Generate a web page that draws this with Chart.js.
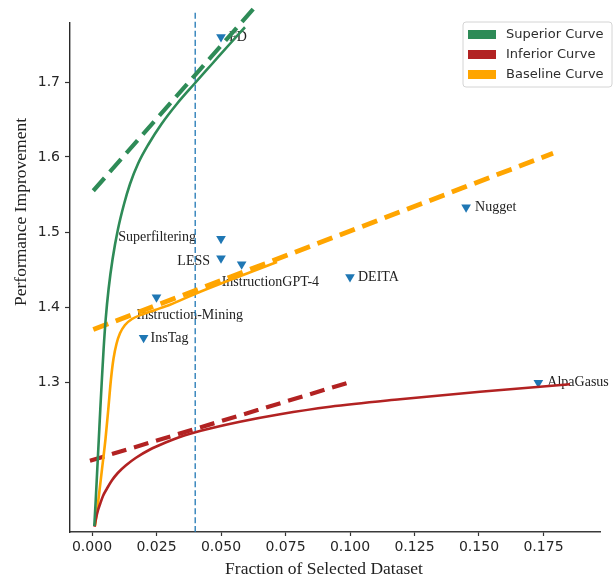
<!DOCTYPE html>
<html>
<head>
<meta charset="utf-8">
<script src="https://cdn.jsdelivr.net/npm/chart.js@4.4.1/dist/chart.umd.min.js"></script>
<style>
  html, body { margin: 0; padding: 0; background: #ffffff; }
  #wrap { width: 614px; height: 575px; }
  canvas { display: block; }
</style>
</head>
<body>
<div id="wrap"><canvas id="c" width="614" height="575"></canvas></div>
<script>
// ---------- data ----------
const methodNames = ['FD', 'Superfiltering', 'LESS', 'InstructionGPT-4', 'DEITA', 'Nugget', 'Instruction-Mining', 'InsTag', 'AlpaGasus'];
const methodX     = [0.050, 0.050, 0.050, 0.058, 0.100, 0.145, 0.025, 0.020, 0.173];
const methodY     = [1.760, 1.491, 1.465, 1.457, 1.440, 1.533, 1.413, 1.359, 1.299];

const superiorX = [0.00089, 0.00147, 0.00205, 0.00264, 0.00322, 0.00384, 0.00450, 0.00531, 0.00643, 0.00798, 0.01008,
                   0.01240, 0.01473, 0.01783, 0.02190, 0.02694, 0.03295, 0.03953, 0.04651, 0.05349, 0.05930];
const superiorY = [1.108, 1.144, 1.184, 1.224, 1.264, 1.304, 1.344, 1.384, 1.424, 1.464, 1.504,
                   1.537, 1.564, 1.591, 1.617, 1.644, 1.671, 1.697, 1.724, 1.751, 1.773];

const inferiorX = [0.00097, 0.00155, 0.00233, 0.00310, 0.00426, 0.00581, 0.00775, 0.01008, 0.01318, 0.01705,
                   0.02248, 0.02829, 0.03605, 0.04574, 0.05736, 0.07287, 0.09225, 0.11938, 0.15039, 0.18527];
const inferiorY = [1.107, 1.118, 1.129, 1.137, 1.148, 1.158, 1.169, 1.179, 1.189, 1.199,
                   1.210, 1.219, 1.229, 1.238, 1.247, 1.257, 1.267, 1.277, 1.287, 1.297];

const baselineX = [0.00116, 0.00252, 0.00388, 0.00523, 0.00632, 0.00736, 0.00833, 0.00950, 0.01085,
                   0.01279, 0.01550, 0.01938, 0.02442, 0.03023, 0.04031, 0.05349, 0.07171];
const baselineY = [1.108, 1.144, 1.184, 1.224, 1.264, 1.304, 1.331, 1.351, 1.365,
                   1.376, 1.384, 1.390, 1.396, 1.403, 1.418, 1.436, 1.460];

const superiorTrendX = [0.0005, 0.0632];
const superiorTrendY = [1.555, 1.800];
const inferiorTrendX = [-0.0008, 0.0992];
const inferiorTrendY = [1.195, 1.299];
const baselineTrendX = [0.0005, 0.1787];
const baselineTrendY = [1.370, 1.605];

const cutoffX = 0.04;
const cutoffYRange = [1.1, 1.793];

const curveNames = ['Superior Curve', 'Inferior Curve', 'Baseline Curve'];

const xTickLabels = ['0.000', '0.025', '0.050', '0.075', '0.100', '0.125', '0.150', '0.175'];
const yTickLabels = ['1.3', '1.4', '1.5', '1.6', '1.7'];

// ---------- styles ----------
const GREEN = '#2e8b57', RED = '#b22222', ORANGE = '#ffa500', BLUE = '#1f77b4';
const curveColors = [GREEN, RED, ORANGE];
// label placement: [dx, dy, align]
const labelPlacement = [
  [8, 0, 'left'], [-25, -1, 'right'], [-11, 3, 'right'], [-20, 18, 'left'], [8, 0, 'left'],
  [9, 0, 'left'], [-20, 18, 'left'], [7, 1, 'left'], [9, 0, 'left']
];

const pts = (xs, ys) => xs.map((x, i) => ({ x: x, y: ys[i] }));

const labelPlugin = {
  id: 'pointLabels',
  beforeDatasetsDraw(chart) {
    const { ctx, scales: { x, y } } = chart;
    ctx.save();
    ctx.font = '14px "Liberation Serif", "Times New Roman", serif';
    ctx.fillStyle = '#222';
    ctx.textBaseline = 'middle';
    methodNames.forEach((name, i) => {
      const [dx, dy, al] = labelPlacement[i];
      ctx.textAlign = al;
      ctx.fillText(name, x.getPixelForValue(methodX[i]) + dx, y.getPixelForValue(methodY[i]) + dy);
    });
    ctx.restore();
  },
  afterDraw(chart) {
    const { ctx } = chart;
    ctx.save();
    // axis titles
    ctx.fillStyle = '#222';
    ctx.font = '17.5px "Liberation Serif", "Times New Roman", serif';
    ctx.textAlign = 'center';
    ctx.textBaseline = 'alphabetic';
    ctx.fillText('Fraction of Selected Dataset', 324, 574);
    ctx.save();
    ctx.translate(26, 212);
    ctx.rotate(-Math.PI / 2);
    ctx.fillText('Performance Improvement', 0, 0);
    ctx.restore();

    // legend
    const lx = 463, ly = 22, lw = 149, lh = 65, r = 3;
    ctx.beginPath();
    ctx.moveTo(lx + r, ly);
    ctx.lineTo(lx + lw - r, ly); ctx.quadraticCurveTo(lx + lw, ly, lx + lw, ly + r);
    ctx.lineTo(lx + lw, ly + lh - r); ctx.quadraticCurveTo(lx + lw, ly + lh, lx + lw - r, ly + lh);
    ctx.lineTo(lx + r, ly + lh); ctx.quadraticCurveTo(lx, ly + lh, lx, ly + lh - r);
    ctx.lineTo(lx, ly + r); ctx.quadraticCurveTo(lx, ly, lx + r, ly);
    ctx.closePath();
    ctx.fillStyle = 'rgba(255,255,255,0.85)';
    ctx.fill();
    ctx.strokeStyle = '#d4d4d4';
    ctx.lineWidth = 1;
    ctx.stroke();
    ctx.font = '13px "DejaVu Sans", sans-serif';
    ctx.textAlign = 'left';
    ctx.textBaseline = 'middle';
    curveNames.forEach((name, i) => {
      const cy = ly + 12.5 + i * 20;
      ctx.fillStyle = curveColors[i];
      ctx.fillRect(lx + 5, cy - 4.5, 28, 9);
      ctx.fillStyle = '#2e2e2e';
      ctx.fillText(name, lx + 43, cy);
    });
    ctx.restore();
  }
};

const lineDs = (label, xs, ys, color, width, dash) => ({
  type: 'line', label: label, data: pts(xs, ys), borderColor: color, backgroundColor: color,
  borderWidth: width, borderDash: dash, pointRadius: 0, fill: false,
  cubicInterpolationMode: 'monotone', clip: false
});

const chart = new Chart(document.getElementById('c'), {
  type: 'scatter',
  data: {
    datasets: [
      lineDs(curveNames[0], superiorX, superiorY, GREEN, 2.6, []),
      lineDs(curveNames[1], inferiorX, inferiorY, RED, 2.6, []),
      lineDs(curveNames[2], baselineX, baselineY, ORANGE, 2.6, []),
      lineDs('superior trend', superiorTrendX, superiorTrendY, GREEN, 4.2, [17, 8]),
      lineDs('inferior trend', inferiorTrendX, inferiorTrendY, RED, 4.2, [15, 8]),
      lineDs('baseline trend', baselineTrendX, baselineTrendY, ORANGE, 4.8, [16, 8]),
      lineDs('cutoff', [cutoffX, cutoffX], cutoffYRange, BLUE, 1.3, [6, 3]),
      {
        type: 'scatter', label: 'methods', data: pts(methodX, methodY),
        pointStyle: 'triangle', rotation: 180, pointRadius: 5.6,
        backgroundColor: BLUE, borderColor: BLUE, borderWidth: 0
      }
    ]
  },
  options: {
    responsive: false,
    animation: false,
    events: [],
    layout: { padding: { top: 23, right: 14, left: 0, bottom: 0 } },
    plugins: { legend: { display: false }, tooltip: { enabled: false } },
    scales: {
      x: {
        type: 'linear',
        min: -22 / 2580,
        max: 508 / 2580,
        afterBuildTicks: s => { s.ticks = xTickLabels.map(t => ({ value: parseFloat(t) })); },
        afterFit: s => { s.height = 43; },
        ticks: {
          callback: (v) => xTickLabels.find(t => Math.abs(parseFloat(t) - v) < 1e-9) || '',
          font: { family: '"DejaVu Sans", sans-serif', size: 14 },
          color: '#262626', padding: 3, maxRotation: 0, autoSkip: false
        },
        grid: { drawOnChartArea: false, drawTicks: true, tickLength: 4, color: '#333', tickWidth: 1.2 },
        border: { display: true, color: '#3a3a3a', width: 1.4 }
      },
      y: {
        type: 'linear',
        min: 1.1,
        max: 1.1 + 509 / 750,
        afterBuildTicks: s => { s.ticks = yTickLabels.map(t => ({ value: parseFloat(t) })); },
        afterFit: s => { s.width = 70; },
        ticks: {
          callback: (v) => yTickLabels.find(t => Math.abs(parseFloat(t) - v) < 1e-9) || '',
          font: { family: '"DejaVu Sans", sans-serif', size: 14 },
          color: '#262626', padding: 5, autoSkip: false
        },
        grid: { drawOnChartArea: false, drawTicks: true, tickLength: 5, color: '#333', tickWidth: 1.2 },
        border: { display: true, color: '#2a2a2a', width: 1.4 }
      }
    }
  },
  plugins: [labelPlugin]
});
</script>
</body>
</html>
